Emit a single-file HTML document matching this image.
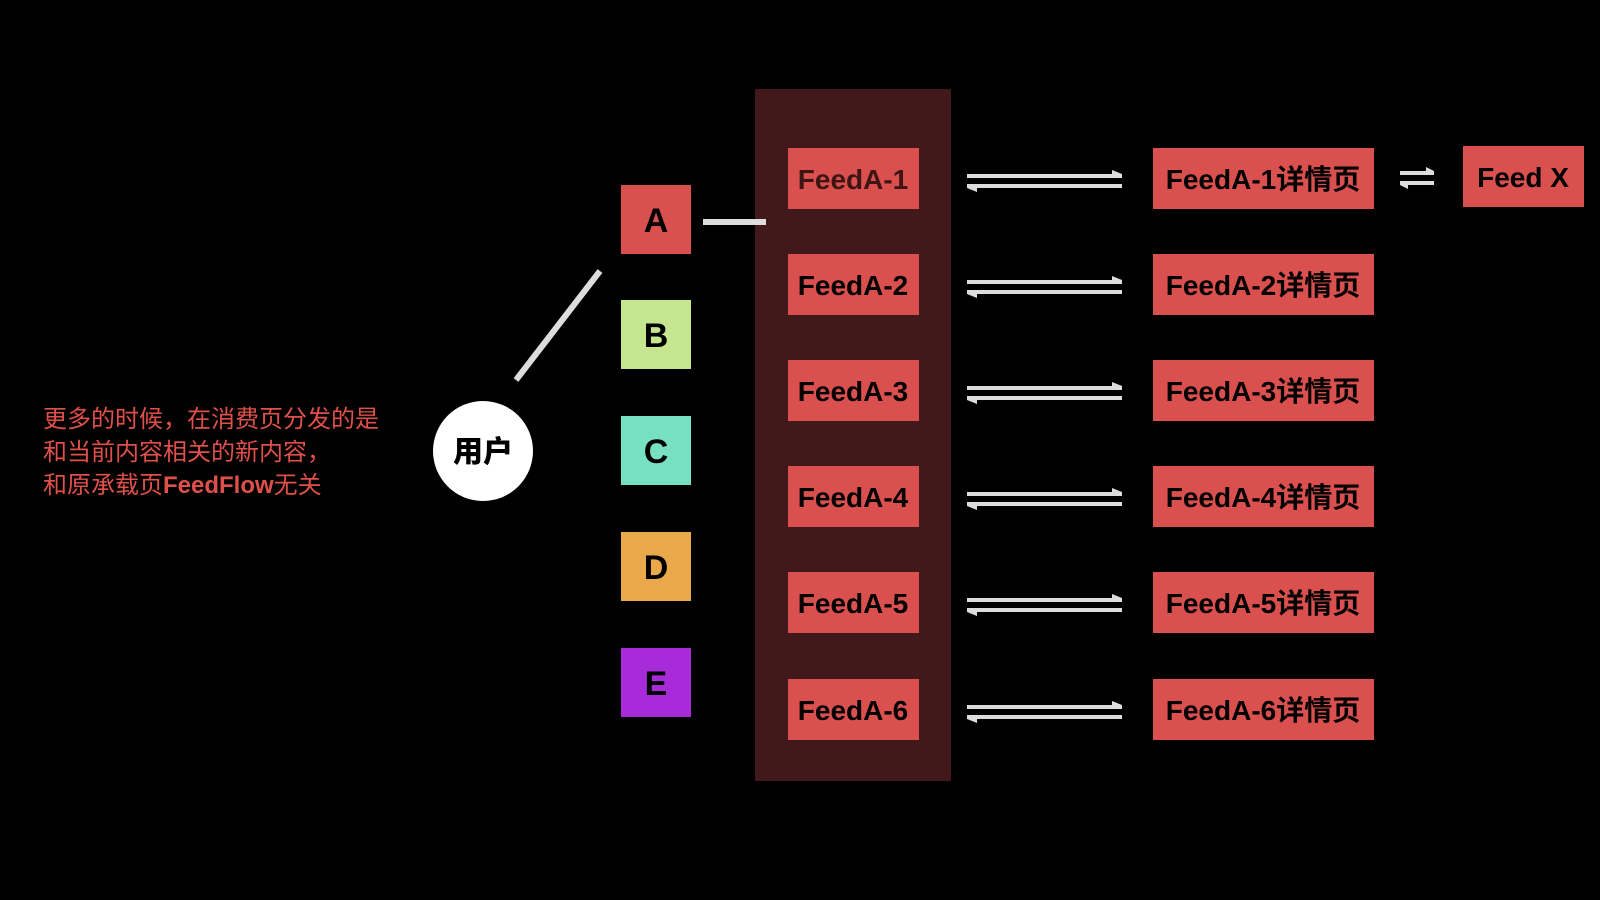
<!DOCTYPE html>
<html><head><meta charset="utf-8"><style>
html,body{margin:0;padding:0;background:#000;width:1600px;height:900px;overflow:hidden}
</style></head><body>
<svg width="1600" height="900" xmlns="http://www.w3.org/2000/svg" style="display:block">
<rect width="1600" height="900" fill="#000"/>
<rect x="755" y="89" width="196" height="692" fill="#41191a"/>
<g font-family="Liberation Sans, Noto Sans CJK SC, sans-serif" font-weight="bold">
<rect x="621" y="185" width="70" height="69" fill="#d9504e"/>
<rect x="621" y="300" width="70" height="69" fill="#c5e68f"/>
<rect x="621" y="416" width="70" height="69" fill="#77dfc2"/>
<rect x="621" y="532" width="70" height="69" fill="#e9a84a"/>
<rect x="621" y="648" width="70" height="69" fill="#a72bd8"/>
<g font-size="34" text-anchor="middle" fill="#000">
<text x="656" y="232">A</text><text x="656" y="347">B</text><text x="656" y="463">C</text><text x="656" y="579">D</text><text x="656" y="695">E</text>
</g>
<line x1="703" y1="222" x2="766" y2="222" stroke="#ddd" stroke-width="6"/>
<line x1="516" y1="380" x2="600" y2="271" stroke="#ddd" stroke-width="6"/>
<circle cx="483" cy="451" r="50" fill="#fff"/>
<text x="483" y="462" font-size="30" text-anchor="middle" fill="#000" font-family="Noto Sans CJK SC, sans-serif" font-weight="900">用户</text>
<g font-size="24" fill="#e0504a" font-weight="normal" font-family="Liberation Sans, Noto Sans CJK SC, sans-serif">
<text x="43" y="427">更多的时候，在消费页分发的是</text>
<text x="43" y="460">和当前内容相关的新内容，</text>
<text x="43" y="493">和原承载页<tspan font-weight="bold">FeedFlow</tspan>无关</text>
</g>
<g font-size="28">
<rect x="788" y="148" width="131" height="61" fill="#d9504e"/><text x="853" y="189" text-anchor="middle" fill="#3d1515">FeedA-1</text>
<rect x="788" y="254" width="131" height="61" fill="#d9504e"/><text x="853" y="295" text-anchor="middle" fill="#000">FeedA-2</text>
<rect x="788" y="360" width="131" height="61" fill="#d9504e"/><text x="853" y="401" text-anchor="middle" fill="#000">FeedA-3</text>
<rect x="788" y="466" width="131" height="61" fill="#d9504e"/><text x="853" y="507" text-anchor="middle" fill="#000">FeedA-4</text>
<rect x="788" y="572" width="131" height="61" fill="#d9504e"/><text x="853" y="613" text-anchor="middle" fill="#000">FeedA-5</text>
<rect x="788" y="679" width="131" height="61" fill="#d9504e"/><text x="853" y="720" text-anchor="middle" fill="#000">FeedA-6</text>
<g fill="#000">
<rect x="1153" y="148" width="221" height="61" fill="#d9504e"/><text x="1263" y="189" text-anchor="middle">FeedA-1详情页</text>
<rect x="1153" y="254" width="221" height="61" fill="#d9504e"/><text x="1263" y="295" text-anchor="middle">FeedA-2详情页</text>
<rect x="1153" y="360" width="221" height="61" fill="#d9504e"/><text x="1263" y="401" text-anchor="middle">FeedA-3详情页</text>
<rect x="1153" y="466" width="221" height="61" fill="#d9504e"/><text x="1263" y="507" text-anchor="middle">FeedA-4详情页</text>
<rect x="1153" y="572" width="221" height="61" fill="#d9504e"/><text x="1263" y="613" text-anchor="middle">FeedA-5详情页</text>
<rect x="1153" y="679" width="221" height="61" fill="#d9504e"/><text x="1263" y="720" text-anchor="middle">FeedA-6详情页</text>
<rect x="1463" y="146" width="121" height="61" fill="#d9504e"/><text x="1523" y="187" text-anchor="middle">Feed X</text>
</g>
</g>
</g>
<defs>
<g id="arr">
<rect x="0" y="-2" width="155" height="4" fill="#ddd"/>
<rect x="0" y="8" width="155" height="4" fill="#ddd"/>
<polygon points="145,-6 155,-2 145,-2" fill="#ddd"/>
<polygon points="0,12 10,12 10,16" fill="#ddd"/>
</g>
</defs>
<use href="#arr" x="967" y="176"/>
<use href="#arr" x="967" y="282"/>
<use href="#arr" x="967" y="388"/>
<use href="#arr" x="967" y="494"/>
<use href="#arr" x="967" y="600"/>
<use href="#arr" x="967" y="707"/>
<rect x="1400" y="171" width="34" height="4" fill="#ddd"/>
<rect x="1400" y="181" width="34" height="4" fill="#ddd"/>
<polygon points="1426,167 1434,171 1426,171" fill="#ddd"/>
<polygon points="1400,185 1408,185 1408,189" fill="#ddd"/>
</svg>
</body></html>
